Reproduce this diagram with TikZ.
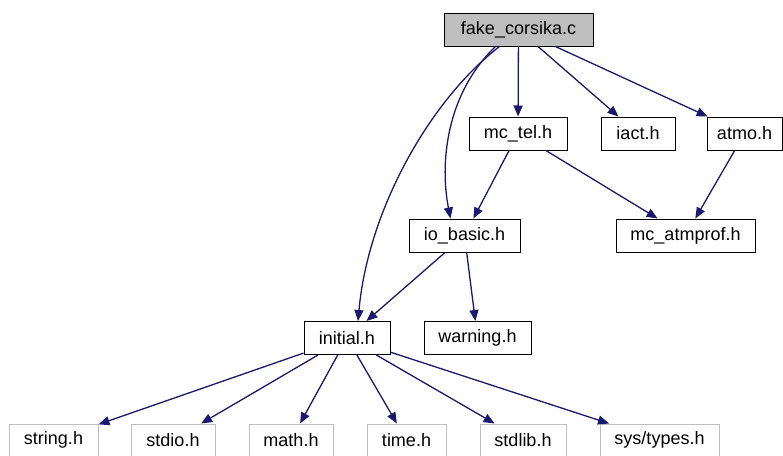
\documentclass[tikz,border=0pt]{standalone}
\usepackage{fontspec}
\setmainfont{Liberation Sans}
\usetikzlibrary{arrows.meta}
\definecolor{edgeblue}{HTML}{191970}
\definecolor{boxgray}{HTML}{BFBFBF}
\begin{document}
\begin{tikzpicture}[
    x=1pt, y=-1pt,
    every node/.style = {shape=rectangle, inner sep=0pt, minimum height=33pt,
                         font=\fontsize{18}{20}\selectfont},
    hfile/.style = {draw=black, line width=1pt},
    root/.style = {hfile, fill=boxgray},
    sysfile/.style = {draw=boxgray, line width=1pt, minimum height=32pt},
    dep/.style = {draw=edgeblue, line width=1.3pt, -{Triangle[length=11pt,width=9pt]}}
    ]
    \useasboundingbox (0,0) rectangle (783,455);
    % top level
    \node [root, minimum width=149pt] (fake) at (518.5,29.5) {fake\_corsika.c};
    \node [hfile, minimum width=98pt] (mctel) at (518,133.5) {mc\_tel.h};
    \node [hfile, minimum width=74pt] (iact) at (638,133.5) {iact.h};
    \node [hfile, minimum width=75pt] (atmo) at (744.5,133.5) {atmo.h};
    \node [hfile, minimum width=111pt] (iobasic) at (464.5,235.5) {io\_basic.h};
    \node [hfile, minimum width=139pt] (atmprof) at (685.5,235.5) {mc\_atmprof.h};
    \node [hfile, minimum width=86pt] (initial) at (347,338) {initial.h};
    \node [hfile, minimum width=107pt] (warning) at (477.5,338) {warning.h};
    % system headers
    \node [sysfile, minimum width=89pt] (string) at (53.5,440) {string.h};
    \node [sysfile, minimum width=84pt] (stdio) at (173,440) {stdio.h};
    \node [sysfile, minimum width=84pt] (math) at (291,440) {math.h};
    \node [sysfile, minimum width=79pt] (time) at (406.5,440) {time.h};
    \node [sysfile, minimum width=86pt] (stdlib) at (523,440) {stdlib.h};
    \node [sysfile, minimum width=119pt] (systypes) at (659.5,440) {sys/types.h};

    \draw [dep] ([xshift=-19pt]fake.south) .. controls (430,100) and (368,210) .. ([xshift=11pt]initial.north);
    \draw [dep] ([xshift=-23pt]fake.south) .. controls (445,95) and (440,165) .. ([xshift=-14pt]iobasic.north);
    \draw [dep] (fake) -- (mctel);
    \draw [dep] (fake) -- (iact);
    \draw [dep] (fake) -- (atmo);
    \draw [dep] (mctel) -- (iobasic);
    \draw [dep] (mctel) -- (atmprof);
    \draw [dep] (atmo) -- (atmprof);
    \draw [dep] (iobasic) -- (initial);
    \draw [dep] (iobasic) -- (warning);
    \foreach \h in {string, stdio, math, time, stdlib, systypes}
      \draw [dep] (initial) -- (\h);
\end{tikzpicture}
\end{document}
